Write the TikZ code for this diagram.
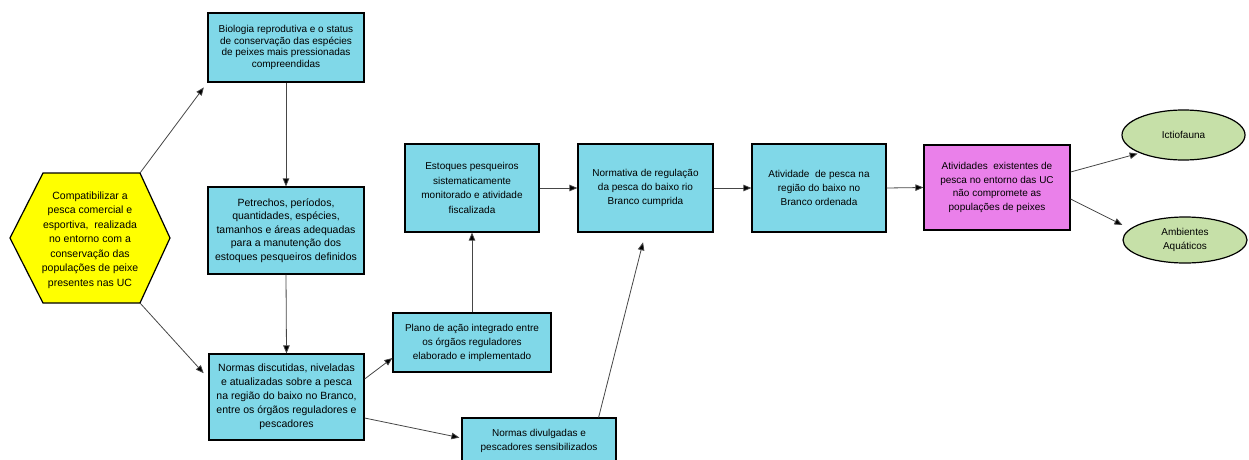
\documentclass[tikz,border=0pt]{standalone}
\usepackage{fontspec}
\setmainfont{Liberation Sans}
\usetikzlibrary{arrows.meta,calc,shapes.geometric}
\definecolor{boxcyan}{RGB}{128,216,232}
\definecolor{boxpink}{RGB}{234,128,234}
\definecolor{ellgreen}{RGB}{198,224,168}
\definecolor{hexyellow}{RGB}{255,255,0}
\definecolor{linegray}{RGB}{70,70,70}
\tikzset{
  stepbox/.style={draw=black, line width=1.2pt, fill=boxcyan, align=center, inner sep=0pt},
  pinkbox/.style={stepbox, fill=boxpink},
  greenell/.style={ellipse, draw=black, line width=1.2pt, fill=ellgreen, align=center, inner sep=0pt},
  arr/.style={draw=linegray, line width=0.8pt, -{Triangle[length=8pt,width=6.5pt,fill=black]}},
}
\newcommand{\fsz}[2]{\fontsize{#1}{#2}\selectfont}
\begin{document}
\begin{tikzpicture}[x=1pt,y=-1pt]
\useasboundingbox (0,0) rectangle (1249,460);
% hexagon
\coordinate (hxl) at (10,238);
\coordinate (hxtl) at (43,173);
\coordinate (hxtr) at (140,173);
\coordinate (hxr) at (170,238);
\coordinate (hxbr) at (140,303);
\coordinate (hxbl) at (43,303);
\filldraw[fill=hexyellow, draw=black, line width=1.2pt] (hxl) -- (hxtl) -- (hxtr) -- (hxr) -- (hxbr) -- (hxbl) -- cycle;
\node[align=center, inner sep=0pt, font=\fsz{10.5}{14.5}] (hex) at (90,240) {Compatibilizar a\\pesca comercial e\\esportiva,\ \ realizada\\no entorno com a\\conservação das\\populações de peixe\\presentes nas UC};
% boxes
\node[stepbox, minimum width=156pt, minimum height=69pt, font=\fsz{10}{11.5}] (b1) at (286,47.5) {Biologia reprodutiva e o status\\de conservação das espécies\\de peixes mais pressionadas\\compreendidas};
\node[stepbox, minimum width=156pt, minimum height=87pt, font=\fsz{10.5}{13.5}] (b2) at (286,230.5) {Petrechos, períodos,\\quantidades, espécies,\\tamanhos e áreas adequadas\\para a manutenção dos\\estoques pesqueiros definidos};
\node[stepbox, minimum width=155pt, minimum height=86pt, font=\fsz{10.5}{14}] (b3) at (286.5,397) {Normas discutidas, niveladas\\e atualizadas sobre a pesca\\na região do baixo no Branco,\\entre os órgãos reguladores e\\pescadores};
\node[stepbox, minimum width=134pt, minimum height=88pt, font=\fsz{10}{14.5}] (est) at (472,188) {Estoques pesqueiros\\sistematicamente\\monitorado e atividade\\fiscalizada};
\node[stepbox, minimum width=158pt, minimum height=59pt, font=\fsz{10}{14}] (pla) at (472,342.5) {Plano de ação integrado entre\\os órgãos reguladores\\elaborado e implementado};
\node[stepbox, minimum width=154pt, minimum height=46pt, font=\fsz{10}{13.5}] (nd) at (539,441) {Normas divulgadas e\\pescadores sensibilizados};
\node[stepbox, minimum width=135pt, minimum height=88pt, font=\fsz{10}{14}] (nrm) at (645.5,188) {Normativa de regulação\\da pesca do baixo rio\\Branco cumprida};
\node[stepbox, minimum width=134pt, minimum height=88pt, font=\fsz{10}{14}] (atv) at (819,188) {Atividade\ \ de pesca na\\região do baixo no\\Branco ordenada};
\node[pinkbox, minimum width=146pt, minimum height=85pt, font=\fsz{10}{13.5}] (pk) at (997,187.5) {Atividades\ \ existentes de\\pesca no entorno das UC\\não compromete as\\populações de peixes};
\node[greenell, minimum width=123pt, minimum height=50pt, font=\fsz{10}{13}] (ict) at (1183.5,135) {Ictiofauna};
\node[greenell, minimum width=124pt, minimum height=46pt, font=\fsz{10}{13.5}] (amb) at (1185,240) {Ambientes\\Aquáticos};
% connectors
\draw[arr, shorten >=6pt] (hxtr) -- (b1.south west);
\draw[arr, shorten >=7pt] (hxbr) -- ($(b3.north west)+(0,25)$);
\draw[arr] (b1.south) -- (b2.north);
\draw[arr] (b2.south) -- (b3.north);
\draw[arr] ($(b3.east)+(0,-18)$) -- ($(pla.west)+(0,15.5)$);
\draw[arr, shorten >=2pt] ($(b3.east)+(0,21)$) -- ($(nd.west)+(0,-3)$);
\draw[arr] (pla.north) -- (est.south);
\draw[arr, shorten >=10pt] ($(nd.north east)+(-18,0)$) -- (nrm.south);
\draw[arr] (est.east) -- (nrm.west);
\draw[arr] (nrm.east) -- (atv.west);
\draw[arr] (atv.east) -- (pk.west);
\draw[arr, shorten >=2pt] ($(pk.east)+(0,-15.5)$) -- (ict.south west);
\draw[arr] ($(pk.east)+(0,11.5)$) -- ($(amb.west)+(0,-15)$);
\end{tikzpicture}
\end{document}
